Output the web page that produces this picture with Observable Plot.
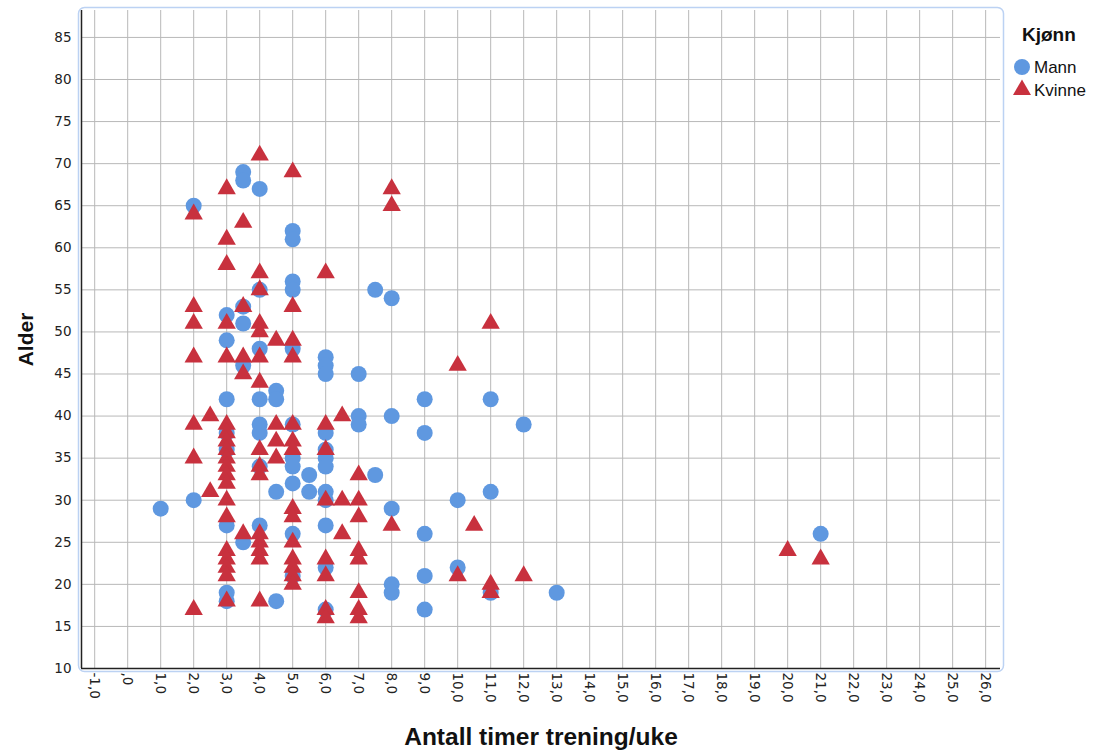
<!DOCTYPE html>
<html><head><meta charset="utf-8">
<script src="https://cdn.jsdelivr.net/npm/d3@7"></script>
<script src="https://cdn.jsdelivr.net/npm/@observablehq/plot@0.6"></script>
<style>
body{margin:0;background:#fff;}
#wrap{position:relative;width:1101px;height:755px;}
.lg{position:absolute;font-family:"Liberation Sans",Arial,sans-serif;color:#111;white-space:nowrap;line-height:1;}
#wrap svg g[aria-label="y-axis tick label"], #wrap svg g[aria-label="x-axis tick label"] { font-size: 13.5px; }
</style></head><body><div id="wrap"></div>
<script>
// Series: [hours per week, age]
const mann = [
  [1,29],
  [2,65],[2,30],
  [3,52],[3,49],[3,42],[3,38],[3,36],[3,27],[3,19],[3,18],
  [3.5,69],[3.5,68],[3.5,53],[3.5,51],[3.5,46],[3.5,25],
  [4,67],[4,55],[4,48],[4,42],[4,39],[4,38],[4,34],[4,27],
  [4.5,43],[4.5,42],[4.5,31],[4.5,18],
  [5,62],[5,61],[5,56],[5,55],[5,48],[5,39],[5,35],[5,34],[5,32],[5,26],[5,21],
  [5.5,33],[5.5,31],
  [6,47],[6,46],[6,45],[6,38],[6,36],[6,35],[6,34],[6,31],[6,30],[6,27],[6,22],[6,17],
  [7,45],[7,40],[7,39],
  [7.5,55],[7.5,33],
  [8,54],[8,40],[8,29],[8,20],[8,19],
  [9,42],[9,38],[9,26],[9,21],[9,17],
  [10,30],[10,22],
  [11,42],[11,31],[11,19],
  [12,39],[13,19],[21,26]
];
const kvinne = [
  [2,64],[2,53],[2,51],[2,47],[2,39],[2,35],[2,17],
  [2.5,40],[2.5,31],
  [3,67],[3,61],[3,58],[3,51],[3,47],[3,39],[3,38],[3,37],[3,36],[3,35],[3,34],[3,33],[3,32],[3,30],[3,28],[3,24],[3,23],[3,22],[3,21],[3,18],
  [3.5,63],[3.5,53],[3.5,47],[3.5,45],[3.5,26],
  [4,71],[4,57],[4,55],[4,51],[4,50],[4,47],[4,44],[4,36],[4,34],[4,33],[4,26],[4,25],[4,24],[4,23],[4,18],
  [4.5,49],[4.5,39],[4.5,37],[4.5,35],
  [5,69],[5,53],[5,49],[5,47],[5,39],[5,37],[5,36],[5,29],[5,28],[5,25],[5,23],[5,22],[5,21],[5,20],
  [6,57],[6,39],[6,36],[6,30],[6,23],[6,21],[6,17],[6,16],
  [6.5,40],[6.5,30],[6.5,26],
  [7,33],[7,30],[7,28],[7,24],[7,23],[7,19],[7,17],[7,16],
  [8,67],[8,65],[8,27],
  [10,46],[10,21],[10.5,27],
  [11,51],[11,20],[11,19],
  [12,21],[20,24],[21,23]
];
const xTicks = d3.range(-1, 27);
const yTicks = d3.range(10, 90, 5);
const legendTitle = "Kjønn";
const seriesNames = ["Mann", "Kvinne"];
const xTitle = "Antall timer trening/uke";
const yTitle = "Alder";

const xDomain = [-1.4, 26.45];
const yDomain = [10, 88.2];
const blue = "#5f98e0";
const red = "#c8313e";
const fmtX = v => v === 0 ? ",0" : v.toFixed(1).replace(".", ",");
const titleFont = "'Liberation Sans', Arial, sans-serif";

const chart = Plot.plot({
  width: 1101, height: 755,
  marginLeft: 81, marginRight: 101, marginTop: 10, marginBottom: 87,
  style: {fontFamily: "'DejaVu Sans', sans-serif", fontSize: "13.5px", color: "#222", background: "white"},
  x: {domain: xDomain},
  y: {domain: yDomain},
  marks: [
    Plot.gridX(xTicks, {stroke: "#b8b8b8", strokeOpacity: 1, strokeWidth: 1}),
    Plot.gridY(yTicks, {stroke: "#b8b8b8", strokeOpacity: 1, strokeWidth: 1}),
    Plot.axisX(xTicks, {tickSize: 0, tickPadding: 4, tickRotate: 90, tickFormat: fmtX, label: null, fill: "#222"}),
    Plot.axisY(yTicks, {tickSize: 0, tickPadding: 10, label: null, fill: "#222"}),
    Plot.ruleX([xDomain[0]], {stroke: "#222", strokeWidth: 1.5}),
    Plot.ruleY([yDomain[0]], {stroke: "#222", strokeWidth: 1.5}),
    Plot.frame({stroke: "#bcd2f3", rx: 6, inset: -3, strokeWidth: 1.5}),
    Plot.dot(mann, {x: d => d[0], y: d => d[1], r: 8, fill: blue, symbol: "circle"}),
    Plot.dot(kvinne, {x: d => d[0], y: d => d[1], r: 6.8, fill: red, symbol: "triangle"}),
    Plot.text([yTitle], {text: d => d, frameAnchor: "left", dx: -55, rotate: -90, textAnchor: "middle", fontSize: 21, fontWeight: "bold", fontFamily: titleFont, fill: "#111"}),
    Plot.text([xTitle], {text: d => d, frameAnchor: "bottom", dy: 76, textAnchor: "middle", fontSize: 24.5, fontWeight: "bold", fontFamily: titleFont, fill: "#111"})
  ]
});
const wrap = document.getElementById("wrap");
wrap.appendChild(chart);

// Legend
function addDiv(text, left, top, size, bold) {
  const d = document.createElement("div");
  d.className = "lg";
  d.textContent = text;
  d.style.left = left + "px";
  d.style.top = top + "px";
  d.style.fontSize = size + "px";
  if (bold) d.style.fontWeight = "bold";
  wrap.appendChild(d);
}
addDiv(legendTitle, 1022, 25, 19, true);
const ns = "http://www.w3.org/2000/svg";
const sym = document.createElementNS(ns, "svg");
sym.setAttribute("width", 30); sym.setAttribute("height", 40);
sym.style.position = "absolute"; sym.style.left = "1007px"; sym.style.top = "55px";
const c = document.createElementNS(ns, "circle");
c.setAttribute("cx", 15); c.setAttribute("cy", 12); c.setAttribute("r", 8); c.setAttribute("fill", blue);
sym.appendChild(c);
const t = document.createElementNS(ns, "path");
t.setAttribute("d", d3.symbol(d3.symbolTriangle, 6.8 * 6.8 * Math.PI)());
t.setAttribute("transform", "translate(15,35)"); t.setAttribute("fill", red);
sym.appendChild(t);
wrap.appendChild(sym);
addDiv(seriesNames[0], 1034, 59, 17, false);
addDiv(seriesNames[1], 1034, 82, 17, false);
</script>
</body></html>
